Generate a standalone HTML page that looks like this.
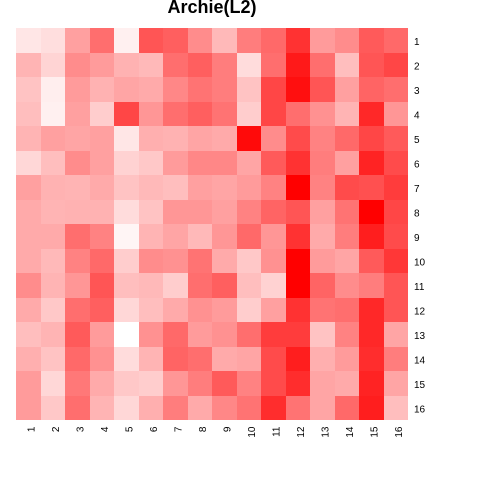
<!DOCTYPE html>
<html>
<head>
<meta charset="utf-8">
<title>Archie(L2)</title>
<style>
  html, body { margin: 0; padding: 0; background: #fff; }
  svg { display: block; }
  text { font-family: "Liberation Sans", Arial, sans-serif; fill: #000; }
</style>
</head>
<body>
<svg id="chart" xmlns="http://www.w3.org/2000/svg" width="480" height="480" viewBox="0 0 480 480">
  <rect x="0" y="0" width="480" height="480" fill="#ffffff"></rect>
  <text x="212" y="13" text-anchor="middle" font-size="18" font-weight="bold">Archie(L2)</text>
  <g id="cells" shape-rendering="crispEdges"></g>
  <g id="x-labels"></g>
  <g id="y-labels"></g>
</svg>
<script>
const colLabels = ["1","2","3","4","5","6","7","8","9","10","11","12","13","14","15","16"];
const rowLabels = ["1","2","3","4","5","6","7","8","9","10","11","12","13","14","15","16"];
const maxValue = 255;
const heatValues = [
  [25,33,95,145,15,170,160,115,70,130,150,205,100,115,165,150],
  [75,43,115,100,77,70,145,160,130,35,145,230,145,65,170,185],
  [60,17,100,77,90,85,120,140,130,60,185,240,170,95,155,145],
  [65,15,95,50,185,105,145,160,140,50,185,145,110,75,215,105],
  [75,95,90,95,25,80,77,90,85,245,115,180,125,150,185,165],
  [40,65,115,95,45,55,100,120,120,90,165,205,130,95,220,180],
  [95,77,75,85,60,70,65,95,90,100,125,255,125,180,175,195],
  [85,75,77,77,35,60,105,105,95,125,155,170,95,140,255,185],
  [85,85,145,125,10,75,90,70,105,150,105,205,85,130,225,180],
  [85,70,125,150,50,115,110,140,85,55,110,255,100,90,165,200],
  [115,75,105,170,65,70,50,145,160,65,45,255,155,115,130,170],
  [85,55,145,160,40,65,85,110,100,50,95,205,140,145,215,170],
  [65,75,165,100,0,110,150,100,110,145,195,195,60,125,215,90],
  [80,60,150,110,35,75,155,145,85,90,180,225,80,100,210,130],
  [100,40,135,85,55,50,105,130,165,125,180,210,90,85,220,90],
  [100,55,145,75,40,80,130,85,120,140,210,140,90,150,225,65]
];

const plotLeft = 16, plotTop = 28, plotSize = 392;
const NS = "http://www.w3.org/2000/svg";

function xScale(i) { return plotLeft + i * plotSize / colLabels.length; }
function yScale(i) { return plotTop + i * plotSize / rowLabels.length; }
function colorScale(v) {
  const t = Math.max(0, Math.min(1, v / maxValue));
  const c = Math.round(255 * (1 - t));
  return "rgb(255," + c + "," + c + ")";
}

const cellsGroup = document.getElementById("cells");
heatValues.forEach(function (row, r) {
  row.forEach(function (v, c) {
    const x0 = Math.round(xScale(c)), x1 = Math.round(xScale(c + 1));
    const y0 = Math.round(yScale(r)), y1 = Math.round(yScale(r + 1));
    const rect = document.createElementNS(NS, "rect");
    rect.setAttribute("x", x0);
    rect.setAttribute("y", y0);
    rect.setAttribute("width", x1 - x0);
    rect.setAttribute("height", y1 - y0);
    rect.setAttribute("fill", colorScale(v));
    
    
    cellsGroup.appendChild(rect);
  });
});

const xGroup = document.getElementById("x-labels");
colLabels.forEach(function (label, c) {
  const cx = (xScale(c) + xScale(c + 1)) / 2 + 6;
  const t = document.createElementNS(NS, "text");
  t.setAttribute("transform", "translate(" + cx + ",426.5) rotate(-90)");
  t.setAttribute("text-anchor", "end");
  t.setAttribute("font-size", "10");
  t.textContent = label;
  
  
  xGroup.appendChild(t);
});

const yGroup = document.getElementById("y-labels");
rowLabels.forEach(function (label, r) {
  const cy = (yScale(r) + yScale(r + 1)) / 2 + 4.5;
  const t = document.createElementNS(NS, "text");
  t.setAttribute("x", 414);
  t.setAttribute("y", cy);
  t.setAttribute("font-size", "10");
  t.textContent = label;
  
  
  yGroup.appendChild(t);
});
</script>
</body>
</html>
